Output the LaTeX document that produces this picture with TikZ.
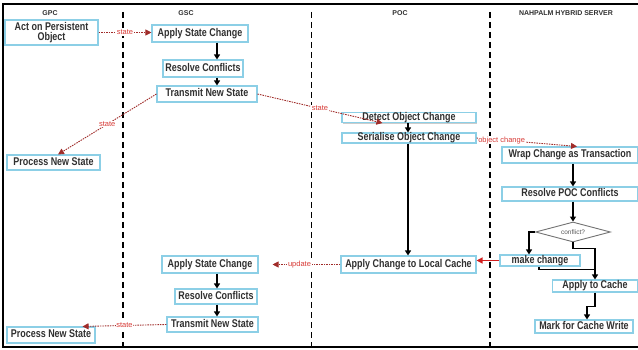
\documentclass[tikz,border=0pt]{standalone}
\usepackage{fontspec}
\setmainfont{Liberation Sans}
\newfontfamily\boxfont{Liberation Sans}[FakeStretch=0.8]
\usetikzlibrary{shapes.geometric,arrows.meta,shadows,calc}
\definecolor{boxblue}{HTML}{8CCFE6}
\definecolor{boxtext}{HTML}{303030}
\definecolor{dred}{HTML}{A02C2A}
\definecolor{lred}{HTML}{D83A36}
\definecolor{brred}{HTML}{D21E1E}
\tikzset{
 basebox/.style={draw=boxblue, line width=1.1pt, fill=white, inner sep=0pt,
   font=\boxfont\bfseries\fontsize{11.2}{11}\selectfont, text=boxtext,
   drop shadow={shadow xshift=1.2pt, shadow yshift=-1.2pt, fill=black!40}},
 box/.style={basebox, text height=7.5pt, text depth=2pt},
 hdr/.style={font=\bfseries\fontsize{7}{8}\selectfont, text=boxtext},
 lane/.style={line width=1.3pt, dash pattern=on 6pt off 4pt},
 flow/.style={line width=1.2pt, -{Triangle[width=6pt,length=5pt]}},
 msg/.style={dred, line width=0.9pt, dash pattern=on 1.5pt off 1pt, -{Triangle[width=6pt,length=6pt]}},
 lbl/.style={font=\fontsize{7.5}{8}\selectfont, text=lred, fill=white, inner sep=0.6pt},
}
\begin{document}
\begin{tikzpicture}[x=1pt,y=-1pt]
\useasboundingbox (0,0) rectangle (638,350);
% frame
\draw[line width=1.5pt] (638,4) -- (3,4) -- (3,347) -- (638,347);
% lanes
\draw[lane] (123,12) -- (123,347);
\draw[lane] (311.5,12) -- (311.5,347);
\draw[lane] (490,12) -- (490,347);
% headers
\node[hdr] (h1) at (50,13) {GPC};
\node[hdr] (h2) at (186,13) {GSC};
\node[hdr] (h3) at (400,13) {POC};
\node[hdr] (h4) at (566,13) {NAHPALM HYBRID SERVER};
% GPC
\node[basebox, align=center, minimum width=93pt, minimum height=25pt] (gpc1) at (51.5,32.5) {Act on Persistent\\[-1pt]Object};
\node[box, minimum width=93pt, minimum height=15pt] (gpc2) at (53.5,162.5) {Process New State};
\node[box, minimum width=88pt, minimum height=16pt] (gpc3) at (51,335) {Process New State};
% GSC
\node[box, minimum width=96pt, minimum height=17pt] (gsc1) at (200,33.5) {Apply State Change};
\node[box, minimum width=80pt, minimum height=17pt] (gsc2) at (203,68.5) {Resolve Conflicts};
\node[box, minimum width=100pt, minimum height=16pt] (gsc3) at (207,94) {Transmit New State};
\node[box, minimum width=96pt, minimum height=17pt] (gsc4) at (210,264.5) {Apply State Change};
\node[box, minimum width=82pt, minimum height=15pt] (gsc5) at (216,296.5) {Resolve Conflicts};
\node[box, minimum width=91pt, minimum height=15pt] (gsc6) at (212.5,324.5) {Transmit New State};
% POC
\node[box, minimum width=134pt, minimum height=10pt] (poc1) at (409,117.5) {Detect Object Change};
\node[box, minimum width=134pt, minimum height=10pt] (poc2) at (409,138) {Serialise Object Change};
\node[box, minimum width=135pt, minimum height=17pt] (poc3) at (408.5,264.5) {Apply Change to Local Cache};
% server
\node[box, minimum width=136pt, minimum height=16pt] (srv1) at (570,155) {Wrap Change as Transaction};
\node[box, minimum width=136pt, minimum height=14pt] (srv2) at (570,194) {Resolve POC Conflicts};
\node[draw=black!55, line width=0.9pt, fill=white, diamond, aspect=3.75, minimum width=75pt, minimum height=20pt, inner sep=0pt, font=\fontsize{6.5}{7}\selectfont, text=black!65] (dia) at (573,232) {conflict?};
\node[box, minimum width=80pt, minimum height=11pt] (srv3) at (540,260.5) {make change};
\node[box, minimum width=85pt, minimum height=12pt] (srv4) at (595,286) {Apply to Cache};
\node[box, minimum width=98pt, minimum height=13pt] (srv5) at (584,326.5) {Mark for Cache Write};
% helper coordinates
\coordinate (gx) at (217,0);
\coordinate (px) at (408,0);
% GSC flows
\draw[flow] (gsc1.south -| gx) -- (gsc2.north -| gx);
\draw[flow] (gsc2.south -| gx) -- (gsc3.north -| gx);
\draw[flow] (gsc4.south -| gx) -- (gsc5.north -| gx);
\draw[flow] (gsc5.south -| gx) -- (gsc6.north -| gx);
% POC flows
\draw[flow] (poc1.south -| px) -- (poc2.north -| px);
\draw[flow] (poc2.south -| px) -- (poc3.north -| px);
% server flows
\draw[flow] (srv1.south -| dia) -- (srv2.north -| dia);
\draw[flow] (srv2.south -| dia) -- (dia.north);
\draw[flow] (dia.west) -| ($(srv3.north)+(-11,0)$);
\draw[flow] (dia.south) -- ++(0,6) -| (srv4.north);
\draw[line width=1.2pt] ($(srv3.south)+(-1,0)$) |- ($(srv4.north)+(0,-10)$);
\draw[flow] (srv4.south) -- ++(0,14) -| ($(srv5.north)+(3,0)$);
% messages
\draw[msg] (gpc1.east) -- node[lbl]{state} (gpc1.east -| gsc1.west);
\draw[msg] (gsc3.east) -- node[lbl]{state} ($(poc1.south west)+(41,0)$);
\draw[msg] (gsc3.west) -- node[lbl]{state} ($(gpc2.north)+(4.5,0)$);
\draw[msg] (poc2.east) -- node[lbl, pos=0.25]{object change} ($(srv1.north)+(7,0)$);
\draw[brred, line width=1.3pt, -{Triangle[width=6pt,length=6pt]}] (srv3.west) -- (srv3.west -| poc3.east);
\draw[msg, shorten >=14pt] (poc3.west) -- node[lbl]{update} (poc3.west -| gsc4.east);
\draw[msg] (gsc6.west) -- node[lbl]{state} ($(gpc3.north east)+(-13,0)$);
\end{tikzpicture}
\end{document}
